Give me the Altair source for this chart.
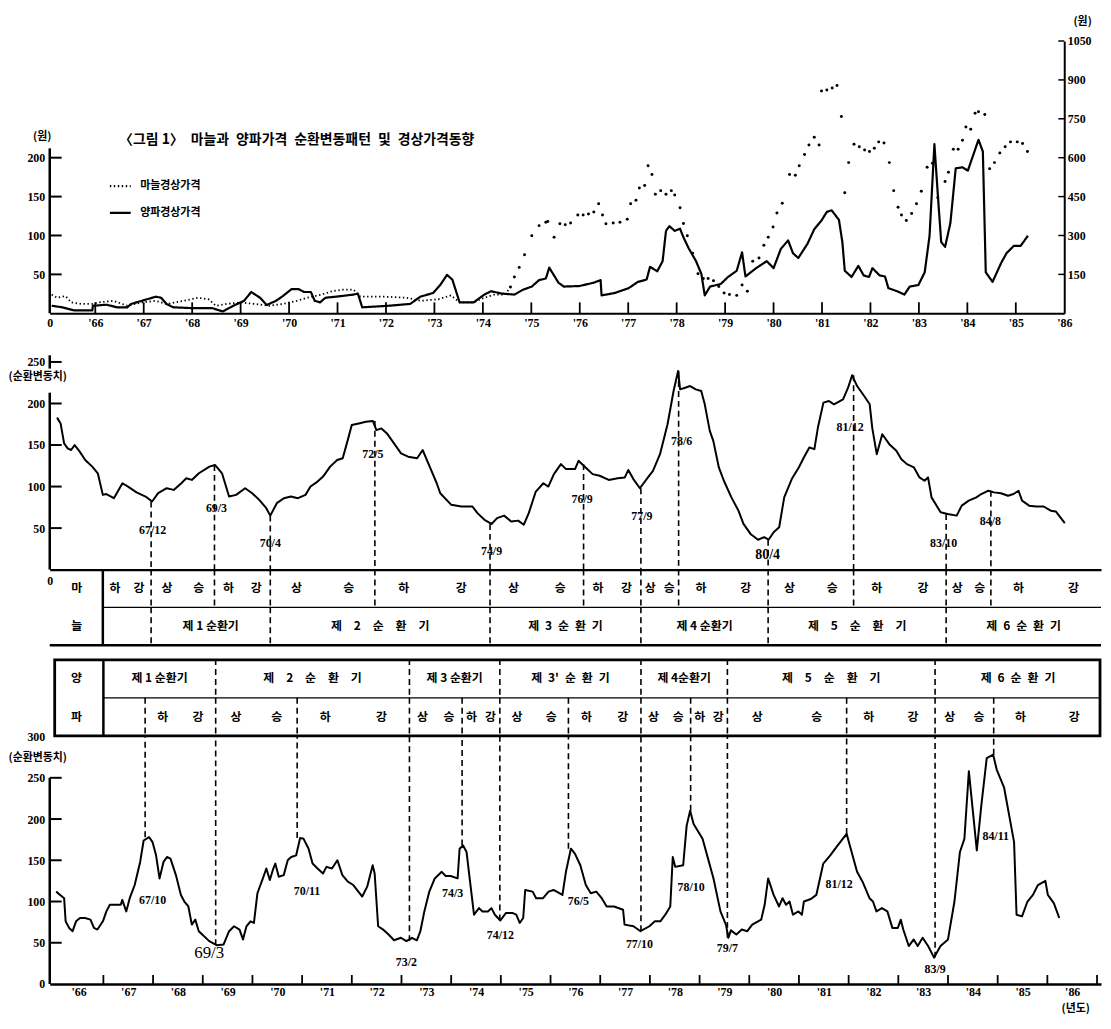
import altair as alt
import pandas as pd

KF = "Noto Sans CJK KR"
NF = "Liberation Serif"

# ---------------- top panel: current prices (won), [decimal year, price] ----------------
onion_price = [
    [1965.10, 29], [1965.32, 23], [1965.57, 11], [1965.94, 11], [1965.95, 29], [1966.23, 33], [1966.45, 23], [1966.66, 23],
    [1966.74, 36], [1966.96, 48], [1967.25, 64], [1967.36, 60], [1967.47, 36], [1967.61, 23], [1967.98, 20], [1968.41, 20],
    [1968.63, 7], [1968.85, 29], [1969.07, 48], [1969.22, 82], [1969.40, 60], [1969.54, 32], [1969.73, 48], [1969.87, 66],
    [1970.05, 93], [1970.20, 93], [1970.31, 82], [1970.45, 82], [1970.53, 48], [1970.64, 42], [1970.75, 60], [1970.97, 64],
    [1971.33, 72], [1971.42, 76], [1971.51, 23], [1972.06, 29], [1972.50, 36], [1972.71, 64], [1972.97, 78], [1973.12, 109],
    [1973.26, 148], [1973.37, 130], [1973.52, 42], [1973.81, 42], [1974.03, 72], [1974.17, 85], [1974.39, 76], [1974.65, 72],
    [1974.83, 91], [1975.01, 103], [1975.16, 128], [1975.30, 134], [1975.37, 176], [1975.56, 118], [1975.67, 103], [1975.99, 105],
    [1976.29, 118], [1976.43, 128], [1976.45, 69], [1976.72, 78], [1977.01, 97], [1977.20, 121], [1977.38, 130], [1977.45, 179],
    [1977.60, 162], [1977.71, 201], [1977.78, 318], [1977.85, 336], [1977.96, 318], [1978.07, 326], [1978.14, 293], [1978.25, 250],
    [1978.40, 201], [1978.51, 152], [1978.58, 69], [1978.69, 103], [1978.91, 113], [1979.06, 140], [1979.24, 164], [1979.35, 235],
    [1979.42, 142], [1979.64, 174], [1979.86, 201], [1980.00, 174], [1980.15, 248], [1980.30, 281], [1980.40, 232], [1980.51, 213],
    [1980.70, 268], [1980.84, 324], [1980.99, 358], [1981.10, 391], [1981.20, 397], [1981.35, 360], [1981.42, 275], [1981.47, 164],
    [1981.61, 140], [1981.75, 183], [1981.86, 146], [1981.97, 140], [1982.04, 174], [1982.19, 146], [1982.30, 142], [1982.37, 97],
    [1982.55, 85], [1982.70, 72], [1982.81, 103], [1982.99, 109], [1983.12, 158], [1983.22, 299], [1983.32, 652], [1983.39, 459],
    [1983.46, 275], [1983.54, 256], [1983.65, 348], [1983.76, 559], [1983.90, 563], [1984.01, 550], [1984.23, 669], [1984.32, 624],
    [1984.38, 158], [1984.52, 121], [1984.70, 195], [1984.81, 232], [1984.96, 260], [1985.10, 260], [1985.25, 299],
]

garlic_price = [
    [1965.10, 72], [1965.21, 60], [1965.39, 66], [1965.50, 42], [1965.72, 36], [1965.94, 36], [1966.08, 42], [1966.37, 48],
    [1966.66, 29], [1966.96, 42], [1967.25, 48], [1967.47, 36], [1967.83, 48], [1968.12, 60], [1968.34, 54], [1968.49, 29],
    [1968.71, 36], [1969.00, 42], [1969.29, 36], [1969.58, 29], [1969.87, 36], [1970.16, 48], [1970.38, 60], [1970.67, 72],
    [1970.89, 85], [1971.11, 91], [1971.33, 91], [1971.47, 64], [1971.98, 64], [1972.42, 60], [1972.71, 48], [1973.08, 54],
    [1973.34, 69], [1973.52, 42], [1973.81, 42], [1974.03, 60], [1974.24, 72], [1974.46, 72], [1974.57, 101], [1974.65, 140],
    [1974.75, 177], [1974.86, 226], [1975.01, 299], [1975.16, 338], [1975.30, 351], [1975.34, 354], [1975.47, 293], [1975.59, 345],
    [1975.70, 341], [1975.81, 348], [1975.96, 379], [1976.07, 379], [1976.18, 383], [1976.29, 391], [1976.39, 422], [1976.47, 379],
    [1976.54, 345], [1976.69, 348], [1976.83, 351], [1976.98, 363], [1977.05, 422], [1977.16, 436], [1977.23, 483], [1977.34, 493],
    [1977.41, 569], [1977.49, 535], [1977.56, 459], [1977.67, 473], [1977.78, 459], [1977.89, 473], [1977.96, 456], [1978.07, 407],
    [1978.14, 346], [1978.22, 299], [1978.33, 232], [1978.44, 152], [1978.55, 134], [1978.65, 134], [1978.76, 125], [1978.87, 103],
    [1978.98, 78], [1979.09, 72], [1979.24, 69], [1979.35, 109], [1979.46, 85], [1979.57, 201], [1979.70, 213], [1979.80, 262],
    [1979.89, 293], [1979.99, 333], [1980.07, 387], [1980.18, 424], [1980.33, 535], [1980.45, 532], [1980.53, 569], [1980.64, 612],
    [1980.73, 649], [1980.84, 679], [1980.94, 649], [1980.99, 857], [1981.10, 861], [1981.21, 869], [1981.31, 878], [1981.40, 759],
    [1981.47, 465], [1981.55, 581], [1981.66, 652], [1981.77, 642], [1981.88, 630], [1981.98, 624], [1982.08, 636], [1982.17, 661],
    [1982.28, 657], [1982.39, 581], [1982.48, 473], [1982.57, 409], [1982.64, 379], [1982.74, 358], [1982.85, 385], [1982.95, 422],
    [1983.05, 471], [1983.17, 563], [1983.28, 579], [1983.39, 446], [1983.54, 508], [1983.61, 544], [1983.71, 633], [1983.81, 633],
    [1983.90, 667], [1983.97, 718], [1984.07, 710], [1984.16, 771], [1984.23, 777], [1984.36, 767], [1984.46, 557], [1984.56, 581],
    [1984.67, 618], [1984.78, 642], [1984.89, 661], [1985.03, 661], [1985.14, 655], [1985.24, 624],
]

# ---------------- garlic cyclical component ----------------
garlic_cycle = [
    [1966.09, 183], [1966.16, 176], [1966.23, 152], [1966.30, 146], [1966.37, 144], [1966.44, 150], [1966.54, 142], [1966.65, 132],
    [1966.79, 124], [1966.90, 116], [1967.00, 90], [1967.07, 91], [1967.22, 86], [1967.39, 104], [1967.50, 100], [1967.67, 93],
    [1967.85, 88], [1967.98, 82], [1968.10, 92], [1968.27, 98], [1968.41, 96], [1968.56, 104], [1968.66, 110], [1968.77, 108],
    [1968.91, 116], [1969.12, 124], [1969.23, 126], [1969.37, 116], [1969.51, 88], [1969.65, 90], [1969.83, 98], [1969.97, 92],
    [1970.11, 84], [1970.25, 74], [1970.33, 65], [1970.46, 80], [1970.60, 86], [1970.74, 88], [1970.88, 86], [1971.03, 90],
    [1971.13, 100], [1971.27, 106], [1971.38, 112], [1971.52, 124], [1971.66, 132], [1971.77, 134], [1971.88, 158], [1971.95, 174],
    [1972.09, 176], [1972.23, 178], [1972.37, 179], [1972.44, 168], [1972.54, 170], [1972.65, 164], [1972.79, 152], [1972.93, 140],
    [1973.07, 136], [1973.25, 134], [1973.36, 144], [1973.50, 124], [1973.64, 104], [1973.71, 92], [1973.93, 78], [1974.13, 76],
    [1974.35, 76], [1974.45, 68], [1974.59, 60], [1974.73, 55], [1974.84, 62], [1974.98, 65], [1975.12, 58], [1975.26, 59],
    [1975.37, 54], [1975.47, 68], [1975.61, 94], [1975.76, 104], [1975.86, 100], [1975.97, 115], [1976.11, 127], [1976.21, 121],
    [1976.39, 121], [1976.46, 131], [1976.60, 123], [1976.74, 115], [1976.88, 113], [1977.06, 108], [1977.24, 110], [1977.38, 111],
    [1977.45, 120], [1977.55, 109], [1977.68, 98], [1977.84, 111], [1977.94, 119], [1978.08, 139], [1978.23, 175], [1978.35, 215],
    [1978.44, 239], [1978.48, 217], [1978.58, 219], [1978.68, 221], [1978.79, 217], [1978.90, 215], [1978.97, 199], [1979.07, 167],
    [1979.14, 155], [1979.25, 123], [1979.35, 107], [1979.50, 87], [1979.64, 71], [1979.74, 55], [1979.88, 43], [1980.03, 36],
    [1980.15, 39], [1980.24, 36], [1980.34, 45], [1980.45, 51], [1980.55, 87], [1980.70, 109], [1980.84, 123], [1980.94, 135],
    [1981.05, 147], [1981.15, 145], [1981.22, 171], [1981.33, 201], [1981.44, 203], [1981.54, 199], [1981.72, 205], [1981.82, 219],
    [1981.90, 234], [1982.00, 221], [1982.14, 209], [1982.25, 199], [1982.30, 171], [1982.39, 139], [1982.50, 163], [1982.64, 151],
    [1982.78, 143], [1982.88, 133], [1982.99, 127], [1983.13, 123], [1983.24, 111], [1983.34, 107], [1983.41, 111], [1983.48, 87],
    [1983.59, 76], [1983.66, 69], [1983.80, 67], [1983.98, 65], [1984.08, 77], [1984.22, 83], [1984.37, 87], [1984.47, 91],
    [1984.61, 95], [1984.72, 93], [1984.86, 92], [1985.00, 89], [1985.11, 91], [1985.21, 95], [1985.28, 83], [1985.42, 77],
    [1985.56, 76], [1985.71, 76], [1985.85, 71], [1985.95, 70], [1986.13, 56],
]
garlic_turn_lab = ["67/12", "69/3", "70/4", "72/5", "74/9", "76/9", "77/9", "78/6", "80/4", "81/12", "83/10", "84/8"]
garlic_turn_t = [1967.96, 1969.22, 1970.33, 1972.41, 1974.70, 1976.56, 1977.70, 1978.45, 1980.23, 1981.93, 1983.77, 1984.66]
garlic_turn_v = [82, 126, 65, 179, 55, 127, 98, 239, 36, 234, 67, 95]
garlic_lab_t = [1967.99, 1969.26, 1970.33, 1972.37, 1974.73, 1976.53, 1977.72, 1978.51, 1980.22, 1981.86, 1983.72, 1984.65]
garlic_lab_v = [48, 74, 32, 139, 23, 85, 64, 155, 17, 172, 32, 58]
garlic_lab_big = [0, 0, 0, 0, 0, 0, 0, 0, 1, 0, 0, 0]

# ---------------- onion cyclical component ----------------
onion_cycle = [
    [1966.05, 112], [1966.13, 108], [1966.21, 104], [1966.24, 76], [1966.31, 68], [1966.38, 64], [1966.45, 76], [1966.53, 80],
    [1966.63, 80], [1966.74, 78], [1966.81, 68], [1966.88, 66], [1966.99, 76], [1967.06, 88], [1967.13, 96], [1967.35, 96],
    [1967.38, 102], [1967.46, 88], [1967.53, 104], [1967.63, 120], [1967.74, 148], [1967.81, 174], [1967.92, 178], [1967.99, 172],
    [1968.06, 156], [1968.13, 128], [1968.21, 148], [1968.28, 154], [1968.35, 152], [1968.46, 132], [1968.56, 108], [1968.63, 100],
    [1968.71, 94], [1968.78, 72], [1968.85, 78], [1968.92, 64], [1968.99, 60], [1969.13, 52], [1969.28, 47], [1969.42, 48],
    [1969.53, 64], [1969.63, 70], [1969.74, 66], [1969.81, 54], [1969.88, 70], [1969.96, 76], [1970.03, 74], [1970.10, 110],
    [1970.21, 128], [1970.28, 140], [1970.35, 126], [1970.42, 140], [1970.46, 146], [1970.53, 130], [1970.63, 132], [1970.71, 150],
    [1970.78, 154], [1970.88, 156], [1970.96, 177], [1971.03, 176], [1971.13, 164], [1971.21, 146], [1971.31, 140], [1971.42, 134],
    [1971.49, 142], [1971.60, 140], [1971.71, 150], [1971.81, 132], [1971.92, 124], [1972.03, 120], [1972.21, 106], [1972.31, 118],
    [1972.42, 144], [1972.46, 134], [1972.53, 70], [1972.63, 66], [1972.74, 60], [1972.85, 53], [1972.99, 56], [1973.10, 52],
    [1973.21, 56], [1973.31, 53], [1973.38, 64], [1973.46, 88], [1973.56, 112], [1973.67, 128], [1973.81, 136], [1973.89, 131],
    [1973.99, 131], [1974.13, 128], [1974.17, 164], [1974.24, 168], [1974.31, 160], [1974.38, 124], [1974.46, 84], [1974.56, 92],
    [1974.63, 88], [1974.74, 88], [1974.81, 92], [1974.88, 84], [1974.99, 77], [1975.10, 86], [1975.24, 86], [1975.31, 84],
    [1975.38, 74], [1975.45, 80], [1975.49, 114], [1975.64, 112], [1975.71, 104], [1975.85, 104], [1975.96, 112], [1976.06, 114],
    [1976.24, 108], [1976.31, 136], [1976.41, 164], [1976.49, 158], [1976.60, 144], [1976.71, 120], [1976.81, 110], [1976.92, 112],
    [1977.03, 104], [1977.13, 94], [1977.28, 94], [1977.46, 90], [1977.49, 72], [1977.67, 70], [1977.81, 64], [1977.99, 70],
    [1978.10, 76], [1978.21, 76], [1978.31, 84], [1978.41, 94], [1978.46, 154], [1978.51, 142], [1978.67, 144], [1978.74, 192],
    [1978.81, 210], [1978.88, 194], [1979.06, 176], [1979.17, 152], [1979.28, 128], [1979.42, 88], [1979.53, 72], [1979.58, 56],
    [1979.63, 65], [1979.74, 60], [1979.85, 66], [1979.96, 64], [1980.06, 72], [1980.24, 78], [1980.31, 96], [1980.38, 128],
    [1980.49, 108], [1980.60, 94], [1980.67, 104], [1980.74, 96], [1980.81, 100], [1980.88, 84], [1980.99, 88], [1981.06, 84],
    [1981.10, 100], [1981.24, 103], [1981.35, 108], [1981.49, 146], [1981.63, 156], [1981.78, 168], [1981.96, 182], [1982.06, 160],
    [1982.17, 136], [1982.28, 124], [1982.42, 104], [1982.49, 100], [1982.56, 88], [1982.67, 92], [1982.78, 88], [1982.88, 68],
    [1982.99, 68], [1983.05, 78], [1983.10, 66], [1983.21, 46], [1983.31, 54], [1983.39, 46], [1983.49, 56], [1983.60, 46],
    [1983.72, 32], [1983.85, 46], [1984.00, 54], [1984.13, 100], [1984.24, 160], [1984.33, 176], [1984.42, 258], [1984.49, 216],
    [1984.58, 162], [1984.67, 216], [1984.78, 274], [1984.91, 278], [1984.98, 260], [1985.13, 238], [1985.33, 172], [1985.38, 84],
    [1985.49, 82], [1985.60, 100], [1985.71, 108], [1985.81, 120], [1985.96, 125], [1986.01, 108], [1986.13, 98], [1986.24, 80],
]
onion_turn_lab = ["67/10", "69/3", "70/11", "73/2", "74/3", "74/12", "76/5", "77/10", "78/10", "79/7", "81/12", "83/9", "84/11"]
onion_turn_t = [1967.84, 1969.26, 1970.90, 1973.16, 1974.22, 1974.98, 1976.36, 1977.82, 1978.82, 1979.56, 1981.96, 1983.74, 1984.92]
onion_turn_v = [178, 47, 177, 52, 168, 77, 164, 64, 210, 56, 182, 32, 278]
onion_lab_t = [1967.99, 1969.13, 1971.10, 1973.10, 1974.03, 1974.99, 1976.56, 1977.79, 1978.83, 1979.56, 1981.81, 1983.74, 1984.96]
onion_lab_v = [102, 37, 113, 27, 110, 59, 100, 49, 118, 43, 121, 18, 179]
onion_lab_big = [0, 1, 0, 0, 0, 0, 0, 0, 0, 0, 0, 0, 0]

# ---------------- phase / cycle tables ----------------
garlic_phase_bounds = [1967.0] + garlic_turn_t + [1986.85]
garlic_phases = ["하강", "상승", "하강", "상승", "하강", "상승", "하강", "상승", "하강", "상승", "하강", "상승", "하강"]
garlic_cycle_bounds = [1967.96, 1970.33, 1974.70, 1977.70, 1980.23, 1983.77, 1986.85]
garlic_cycles = ["제 1 순환기", "제\u20032\u2003순\u2003환\u2003기", "제\u20023\u2002순\u2002환\u2002기",
                 "제 4 순환기", "제\u20035\u2003순\u2003환\u2003기", "제\u20026\u2002순\u2002환\u2002기"]

onion_cycle_bounds = [1967.0, 1969.26, 1973.16, 1974.98, 1977.82, 1979.56, 1983.74, 1987.08]
onion_cycles = ["제 1 순환기", "제\u20032\u2003순\u2003환\u2003기", "제 3 순환기", "제\u20023'\u2002순\u2002환\u2002기",
                "제 4순환기", "제\u20035\u2003순\u2003환\u2003기", "제\u20026\u2002순\u2002환\u2002기"]
onion_phase_bounds = [1967.0] + onion_turn_t + [1987.08]
onion_phases = ["", "하강", "상승", "하강", "상승", "하강", "상승", "하강", "상승", "하강", "상승", "하강", "상승", "하강"]

GARLIC = "마늘경상가격"
ONION = "양파경상가격"
FIG_TITLE = "〈그림 1〉\u2002마늘과\u2002양파가격\u2002순환변동패턴\u2002및\u2002경상가격동향"

# ---------------- layout constants ----------------
TOP_DOM = [1965.06, 1986.0]
MID_DOM = [1965.944, 1986.85]
BOT_DOM = [1965.92, 1987.08]
TOP_W, TOP_H = 1021, 274
MID_W, MID_H = 1058, 258
GT_H, OT_H, BOT_H = 90, 78, 249

bold_num = dict(font=NF, fontWeight="bold", fontSize=12, color="black")


def pairs(p, extra=None):
    df = pd.DataFrame(p, columns=["t", "v"])
    if extra:
        for k, val in extra.items():
            df[k] = val
    return df


def phase_chars(bounds, labels, row):
    out = []
    for i, lab in enumerate(labels):
        a, b = bounds[i], bounds[i + 1]
        for j, ch in enumerate(lab):
            frac = 0.25 + 0.5 * j / max(len(lab) - 1, 1)
            out.append({"t": a + (b - a) * frac, "r": row, "txt": ch})
    return pd.DataFrame(out)


def centers(bounds, labels, row):
    return pd.DataFrame({"t": [(bounds[i] + bounds[i + 1]) / 2 for i in range(len(labels))],
                         "r": row, "txt": labels})


def dividers(ts, r1, r2):
    return pd.DataFrame({"t": ts, "r": r1, "r2": r2})


# ================= TOP PANEL =================
xt = alt.X("t:Q", scale=alt.Scale(domain=TOP_DOM, nice=False, zero=False), title=None,
           axis=alt.Axis(values=[TOP_DOM[0]] + list(range(1966, 1987)),
                         labelExpr="datum.value < 1965.5 ? '0' : \"'\" + substring(toString(datum.value), 2, 4)",
                         ticks=False, domainWidth=2, labelFlush=False, labelOverlap=False, labelPadding=4))
yr = alt.Y("v:Q", scale=alt.Scale(domain=[0, 1050], nice=False), title="(원)",
           axis=alt.Axis(orient="right", values=[150, 300, 450, 600, 750, 900, 1050], format="d", ticks=False,
                         domainWidth=2, labelPadding=3, titleAngle=0, titleX=18, titleY=-20,
                         titleAlign="center", titleBaseline="middle"))
sdash = alt.StrokeDash("series:N",
                       scale=alt.Scale(domain=[GARLIC, ONION], range=[[1.4, 2.6], [1, 0]]),
                       legend=alt.Legend(orient="none", legendX=59, legendY=134, title=None,
                                         symbolType="stroke", symbolSize=440, symbolStrokeWidth=2.2,
                                         symbolStrokeColor="black", labelFont=KF, labelFontSize=11,
                                         labelFontWeight="bold", labelColor="black", rowPadding=10,
                                         labelOffset=8))

on_df = pairs(onion_price, {"series": ONION})
ga_df = pairs(garlic_price, {"series": GARLIC})

onion_line = alt.Chart(on_df).mark_line(color="black", strokeWidth=2.2, strokeJoin="round").encode(
    x=xt, y=yr, strokeDash=sdash)
garlic_line = alt.Chart(ga_df[ga_df.t <= 1974.6]).mark_line(color="black", strokeWidth=1.8).encode(
    x=xt, y=yr, strokeDash=sdash)
garlic_pts = alt.Chart(ga_df[ga_df.t >= 1974.5]).mark_circle(color="black", size=9, opacity=1).encode(x=xt, y=yr)
right_ticks = alt.Chart(pd.DataFrame({"v": [150, 300, 450, 600, 750, 900, 1050]})).mark_rule(
    color="black", strokeWidth=1.5).encode(x=alt.value(TOP_W - 6), x2=alt.value(TOP_W), y=yr)
top_xticks = alt.Chart(pd.DataFrame({"t": list(range(1966, 1986))})).mark_rule(
    color="black", strokeWidth=1.8).encode(x=xt, y=alt.value(TOP_H), y2=alt.value(TOP_H - 11))
title_txt = alt.Chart(pd.DataFrame({"t": [1966.49], "v": [667], "txt": [FIG_TITLE]})).mark_text(
    font=KF, fontWeight="bold", fontSize=14, align="left", baseline="middle", color="black").encode(
    x=xt, y=yr, text="txt:N")
right_group = alt.layer(onion_line, garlic_line, garlic_pts, right_ticks, top_xticks, title_txt)

yl = alt.Y("lv:Q", scale=alt.Scale(domain=[0, 350], nice=False), title="(원)",
           axis=alt.Axis(orient="left", values=[50, 100, 150, 200], domain=False, ticks=False, labelPadding=5,
                         titleAngle=0, titleX=-8, titleY=96, titleAlign="center", titleBaseline="middle"))
left_line = alt.Chart(pd.DataFrame({"lv": [0], "lv2": [212]})).mark_rule(color="black", strokeWidth=2.5).encode(
    x=alt.value(0), y=yl, y2=alt.Y2("lv2:Q"))
left_ticks = alt.Chart(pd.DataFrame({"lv": [50, 100, 150, 200]})).mark_rule(color="black", strokeWidth=2).encode(
    x=alt.value(0), x2=alt.value(12), y=yl)
left_group = alt.layer(left_line, left_ticks)

top = alt.layer(left_group, right_group).resolve_scale(y="independent").properties(width=TOP_W, height=TOP_H)

# ================= MIDDLE PANEL (garlic cycle) =================
xm = alt.X("t:Q", scale=alt.Scale(domain=MID_DOM, nice=False, zero=False), title=None,
           axis=alt.Axis(values=[MID_DOM[0]], labelExpr="'0'", ticks=False, domainWidth=2.5,
                         labelPadding=6, labelFlush=False))
ym = alt.Y("v:Q", scale=alt.Scale(domain=[0, 308.6], nice=False), title="(순환변동치)",
           axis=alt.Axis(values=[50, 100, 150, 200, 250], domain=False, ticks=False, labelPadding=5,
                         titleAngle=0, titleX=-42, titleY=64, titleAlign="left", titleBaseline="middle"))
gc_df = pairs(garlic_cycle)
g_turn = pd.DataFrame({"t": garlic_turn_t, "v": garlic_turn_v, "z": 0})
g_lab = pd.DataFrame({"t": garlic_lab_t, "v": garlic_lab_v, "lab": garlic_turn_lab, "big": garlic_lab_big})

mid = alt.layer(
    alt.Chart(pd.DataFrame({"v": [0], "v2": [213]})).mark_rule(color="black", strokeWidth=2.5).encode(
        x=alt.value(0), y=ym, y2=alt.Y2("v2:Q")),
    alt.Chart(pd.DataFrame({"v": [242], "v2": [258]})).mark_rule(color="black", strokeWidth=2.5).encode(
        x=alt.value(0), y=ym, y2=alt.Y2("v2:Q")),
    alt.Chart(pd.DataFrame({"v": [50, 100, 150, 200, 250]})).mark_rule(color="black", strokeWidth=2).encode(
        x=alt.value(0), x2=alt.value(12), y=ym),
    alt.Chart(g_turn).mark_rule(color="black", strokeWidth=1.6, strokeDash=[6, 4]).encode(
        x=xm, y=ym, y2=alt.Y2("z:Q")),
    alt.Chart(gc_df).mark_line(color="black", strokeWidth=2, strokeJoin="round").encode(x=xm, y=ym),
    alt.Chart(g_lab).transform_filter("datum.big == 0").mark_text(
        align="center", baseline="middle", **bold_num).encode(x=xm, y=ym, text="lab:N"),
    alt.Chart(g_lab).transform_filter("datum.big == 1").mark_text(
        align="center", baseline="middle", font=NF, fontWeight="bold", fontSize=14, color="black").encode(
        x=xm, y=ym, text="lab:N"),
).properties(width=MID_W, height=MID_H)

# ================= GARLIC TABLE =================
xg = alt.X("t:Q", scale=alt.Scale(domain=MID_DOM, nice=False, zero=False), axis=None, title=None)
yg = alt.Y("r:Q", scale=alt.Scale(domain=[0, 2.368], reverse=True, nice=False), axis=None, title=None)
ktext = dict(font=KF, fontWeight="bold", fontSize=12, color="black", align="center", baseline="middle")

gtab = alt.layer(
    alt.Chart(dividers(garlic_turn_t, 0, 1)).mark_rule(color="black", strokeWidth=1.6, strokeDash=[6, 4]).encode(
        x=xg, y=yg, y2=alt.Y2("r2:Q")),
    alt.Chart(dividers(garlic_cycle_bounds[:-1], 1, 2)).mark_rule(color="black", strokeWidth=1.6,
                                                                   strokeDash=[6, 4]).encode(
        x=xg, y=yg, y2=alt.Y2("r2:Q")),
    alt.Chart(pd.DataFrame({"t": [1967.0], "r": [0], "r2": [2]})).mark_rule(color="black", strokeWidth=2.5).encode(
        x=xg, y=yg, y2=alt.Y2("r2:Q")),
    alt.Chart(pd.DataFrame({"t": [1967.0], "t2": [MID_DOM[1]], "r": [1]})).mark_rule(
        color="black", strokeWidth=1.3).encode(x=xg, x2=alt.X2("t2:Q"), y=yg),
    alt.Chart(pd.DataFrame({"t": [MID_DOM[0]], "t2": [MID_DOM[1]], "r": [2]})).mark_rule(
        color="black", strokeWidth=2.5).encode(x=xg, x2=alt.X2("t2:Q"), y=yg),
    alt.Chart(phase_chars(garlic_phase_bounds, garlic_phases, 0.5)).mark_text(**ktext).encode(
        x=xg, y=yg, text="txt:N"),
    alt.Chart(centers(garlic_cycle_bounds, garlic_cycles, 1.5)).mark_text(**ktext).encode(
        x=xg, y=yg, text="txt:N"),
    alt.Chart(pd.DataFrame({"t": [1966.48, 1966.48], "r": [0.5, 1.5], "txt": ["마", "늘"]})).mark_text(
        **ktext).encode(x=xg, y=yg, text="txt:N"),
).properties(width=MID_W, height=GT_H)

# ================= ONION TABLE =================
xo = alt.X("t:Q", scale=alt.Scale(domain=BOT_DOM, nice=False, zero=False), axis=None, title=None)
yo = alt.Y("r:Q", scale=alt.Scale(domain=[0, 2], reverse=True, nice=False), axis=None, title=None)

otab = alt.layer(
    alt.Chart(dividers(onion_cycle_bounds[1:-1], 0, 1)).mark_rule(color="black", strokeWidth=1.6,
                                                                   strokeDash=[6, 4]).encode(
        x=xo, y=yo, y2=alt.Y2("r2:Q")),
    alt.Chart(dividers(onion_turn_t, 1, 2)).mark_rule(color="black", strokeWidth=1.6, strokeDash=[6, 4]).encode(
        x=xo, y=yo, y2=alt.Y2("r2:Q")),
    alt.Chart(pd.DataFrame({"t": [1967.0], "r": [0], "r2": [2]})).mark_rule(color="black", strokeWidth=2.5).encode(
        x=xo, y=yo, y2=alt.Y2("r2:Q")),
    alt.Chart(pd.DataFrame({"t": [1967.0], "t2": [BOT_DOM[1]], "r": [1]})).mark_rule(
        color="black", strokeWidth=1.3).encode(x=xo, x2=alt.X2("t2:Q"), y=yo),
    alt.Chart(pd.DataFrame({"t": [1966.02], "t2": [1987.06], "r": [0.02], "r2": [1.98]})).mark_rect(
        fillOpacity=0, stroke="black", strokeWidth=2.8).encode(x=xo, x2=alt.X2("t2:Q"), y=yo, y2=alt.Y2("r2:Q")),
    alt.Chart(centers(onion_cycle_bounds, onion_cycles, 0.5)).mark_text(**ktext).encode(
        x=xo, y=yo, text="txt:N"),
    alt.Chart(phase_chars(onion_phase_bounds, onion_phases, 1.5)).mark_text(**ktext).encode(
        x=xo, y=yo, text="txt:N"),
    alt.Chart(pd.DataFrame({"t": [1966.46, 1966.46], "r": [0.5, 1.5], "txt": ["양", "파"]})).mark_text(
        **ktext).encode(x=xo, y=yo, text="txt:N"),
).properties(width=MID_W, height=OT_H)

# ================= BOTTOM PANEL (onion cycle) =================
xb = alt.X("t:Q", scale=alt.Scale(domain=BOT_DOM, nice=False, zero=False), title="(년도)",
           axis=alt.Axis(values=[y + 0.5 for y in range(1966, 1987)],
                         labelExpr="\"'\" + substring(toString(floor(datum.value)), 2, 4)",
                         ticks=False, domainWidth=2.5, labelFlush=False, labelOverlap=False, labelPadding=3,
                         titleX=1032, titleY=19, titleAlign="center", titleBaseline="top"))
yb = alt.Y("v:Q", scale=alt.Scale(domain=[0, 300], nice=False), title="(순환변동치)",
           axis=alt.Axis(values=[0, 50, 100, 150, 200, 250, 300], domain=False, ticks=False, labelPadding=5,
                         titleAngle=0, titleX=-42, titleY=21, titleAlign="left", titleBaseline="middle"))
oc_df = pairs(onion_cycle)
o_turn = pd.DataFrame({"t": onion_turn_t, "v": onion_turn_v, "top": 300})
o_lab = pd.DataFrame({"t": onion_lab_t, "v": onion_lab_v, "lab": onion_turn_lab, "big": onion_lab_big})

bot = alt.layer(
    alt.Chart(pd.DataFrame({"v": [0], "v2": [250]})).mark_rule(color="black", strokeWidth=2.5).encode(
        x=alt.value(0), y=yb, y2=alt.Y2("v2:Q")),
    alt.Chart(pd.DataFrame({"v": [50, 100, 150, 200, 250]})).mark_rule(color="black", strokeWidth=2).encode(
        x=alt.value(0), x2=alt.value(12), y=yb),
    alt.Chart(pd.DataFrame({"t": list(range(1967, 1988))})).mark_rule(color="black", strokeWidth=1.8).encode(
        x=xb, y=alt.value(BOT_H), y2=alt.value(BOT_H - 9)),
    alt.Chart(o_turn).mark_rule(color="black", strokeWidth=1.6, strokeDash=[6, 4]).encode(
        x=xb, y=yb, y2=alt.Y2("top:Q")),
    alt.Chart(oc_df).mark_line(color="black", strokeWidth=2, strokeJoin="round").encode(x=xb, y=yb),
    alt.Chart(o_lab).transform_filter("datum.big == 0").mark_text(
        align="center", baseline="middle", **bold_num).encode(x=xb, y=yb, text="lab:N"),
    alt.Chart(o_lab).transform_filter("datum.big == 1").mark_text(
        align="center", baseline="middle", font=NF, fontSize=17, color="black").encode(
        x=xb, y=yb, text="lab:N"),
).properties(width=MID_W, height=BOT_H)

chart = alt.vconcat(top, mid, gtab, otab, bot, spacing=0, bounds="flush").properties(
    padding={"left": 0, "top": 4, "right": 0, "bottom": 0}
).configure_view(stroke=None).configure_axis(
    labelFont=NF, labelFontWeight="bold", labelFontSize=12, labelColor="black",
    domainColor="black", titleColor="black", titleFont=KF, titleFontSize=11, titleFontWeight="bold", grid=False
)

chart.save("out.html", embed_options={"renderer": "svg", "actions": False})
